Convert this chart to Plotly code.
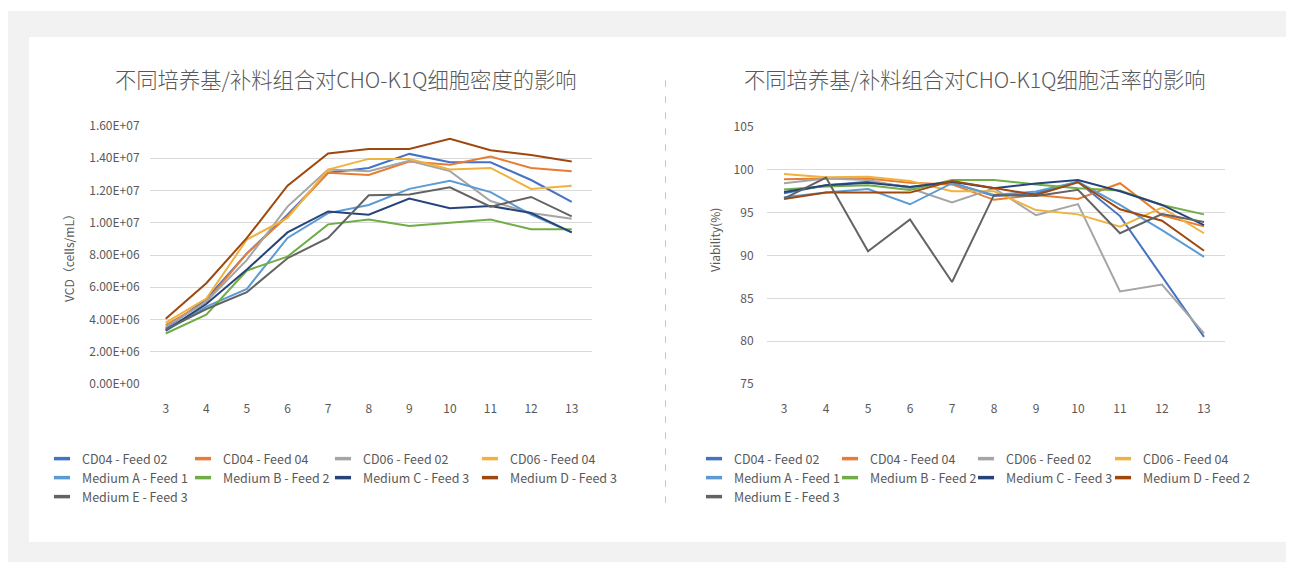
import plotly.graph_objects as go

# ---------------- data ----------------
days = [3, 4, 5, 6, 7, 8, 9, 10, 11, 12, 13]

names_left = ["CD04 - Feed 02", "CD04 - Feed 04", "CD06 - Feed 02", "CD06 - Feed 04",
              "Medium A - Feed 1", "Medium B - Feed 2", "Medium C - Feed 3", "Medium D - Feed 3",
              "Medium E - Feed 3"]
names_right = ["CD04 - Feed 02", "CD04 - Feed 04", "CD06 - Feed 02", "CD06 - Feed 04",
               "Medium A - Feed 1", "Medium B - Feed 2", "Medium C - Feed 3", "Medium D - Feed 2",
               "Medium E - Feed 3"]
colors = ["#4472C4", "#E97C33", "#A5A5A5", "#F0B23E", "#5B9BD5", "#70AD47", "#264478", "#9E480E", "#636363"]

vcd_cd04_f02 = [3.44e6, 5.27e6, 8.10e6, 10.5e6, 13.1e6, 13.4e6, 14.27e6, 13.75e6, 13.75e6, 12.65e6, 11.3e6]
vcd_cd04_f04 = [3.65e6, 5.10e6, 8.10e6, 10.4e6, 13.1e6, 12.96e6, 13.8e6, 13.6e6, 14.1e6, 13.4e6, 13.2e6]
vcd_cd06_f02 = [3.54e6, 5.10e6, 7.70e6, 11.0e6, 13.3e6, 13.2e6, 13.85e6, 13.2e6, 11.35e6, 10.6e6, 10.25e6]
vcd_cd06_f04 = [3.80e6, 5.30e6, 8.96e6, 10.3e6, 13.3e6, 13.96e6, 13.96e6, 13.3e6, 13.4e6, 12.1e6, 12.3e6]
vcd_med_a_f1 = [3.30e6, 4.80e6, 5.90e6, 9.06e6, 10.6e6, 11.1e6, 12.1e6, 12.6e6, 11.9e6, 10.5e6, 9.4e6]
vcd_med_b_f2 = [3.13e6, 4.30e6, 7.04e6, 7.90e6, 9.9e6, 10.2e6, 9.8e6, 10.0e6, 10.2e6, 9.6e6, 9.6e6]
vcd_med_c_f3 = [3.33e6, 4.96e6, 7.10e6, 9.40e6, 10.7e6, 10.5e6, 11.5e6, 10.9e6, 11.04e6, 10.6e6, 9.4e6]
vcd_med_d_f3 = [4.04e6, 6.25e6, 9.06e6, 12.3e6, 14.3e6, 14.58e6, 14.58e6, 15.2e6, 14.5e6, 14.2e6, 13.8e6]
vcd_med_e_f3 = [3.37e6, 4.65e6, 5.70e6, 7.80e6, 9.06e6, 11.7e6, 11.75e6, 12.2e6, 11.0e6, 11.6e6, 10.4e6]

via_cd04_f02 = [97.27, 98.2, 98.6, 98.0, 98.5, 96.95, 97.27, 98.6, 94.6, 87.5, 80.5]
via_cd04_f04 = [98.9, 99.0, 99.0, 98.5, 98.3, 96.5, 97.07, 96.6, 98.44, 94.7, 93.4]
via_cd06_f02 = [98.44, 99.0, 98.8, 97.85, 96.2, 97.85, 94.7, 96.0, 85.8, 86.6, 80.9]
via_cd06_f04 = [99.5, 99.14, 99.2, 98.7, 97.5, 97.5, 95.3, 94.8, 93.36, 95.6, 92.6]
via_med_a_f1 = [96.8, 97.34, 97.77, 95.98, 98.44, 97.07, 97.46, 98.6, 95.9, 92.97, 89.84]
via_med_b_f2 = [97.7, 98.05, 98.2, 97.66, 98.8, 98.8, 98.3, 97.85, 97.6, 95.9, 94.8]
via_med_c_f3 = [97.4, 98.2, 98.5, 98.0, 98.6, 97.85, 98.4, 98.8, 97.5, 95.9, 93.55]
via_med_d_f2 = [96.6, 97.34, 97.34, 97.34, 98.7, 97.85, 97.07, 98.55, 95.4, 94.06, 90.55]
via_med_e_f3 = [96.64, 99.1, 90.5, 94.2, 86.9, 97.07, 96.95, 97.66, 92.6, 94.84, 93.9]

vcd_tickvals = [0, 2e6, 4e6, 6e6, 8e6, 1e7, 1.2e7, 1.4e7, 1.6e7]
vcd_ticklabels = ["0.00E+00", "2.00E+06", "4.00E+06", "6.00E+06", "8.00E+06",
                  "1.00E+07", "1.20E+07", "1.40E+07", "1.60E+07"]
via_tickvals = [75, 80, 85, 90, 95, 100, 105]

title_left = "不同培养基/补料组合对CHO-K1Q细胞密度的影响"
title_right = "不同培养基/补料组合对CHO-K1Q细胞活率的影响"
ytitle_left = "VCD（cells/mL）"
ytitle_right = "Viability(%)"

vcd_series = [vcd_cd04_f02, vcd_cd04_f04, vcd_cd06_f02, vcd_cd06_f04, vcd_med_a_f1,
              vcd_med_b_f2, vcd_med_c_f3, vcd_med_d_f3, vcd_med_e_f3]
via_series = [via_cd04_f02, via_cd04_f04, via_cd06_f02, via_cd06_f04, via_med_a_f1,
              via_med_b_f2, via_med_c_f3, via_med_d_f2, via_med_e_f3]

# ---------------- layout helpers ----------------
W, H = 1294, 562
OFF = 8  # page offset of the figure (body margin)
FONT = "Noto Sans CJK SC, Noto Sans, sans-serif"
TXT = "#595959"
GRID = "#D9D9D9"


def fx(px):
    return (px - OFF) / W


def fy(py):
    return 1 - (py - OFF) / H


fig = go.Figure()

# legend grid: 4 columns x 3 rows for each panel (text start positions in page px)
left_cols = [81, 222, 362, 509]
right_cols = [733, 869, 1005, 1142]
row_y = [459, 478, 497]
leg_font = dict(family=FONT, size=12.5, color=TXT)

legend_layouts = {}
k = 0
for panel, series, names, cols, xa, ya in [
        ("L", vcd_series, names_left, left_cols, "x", "y"),
        ("R", via_series, names_right, right_cols, "x2", "y2")]:
    for i, ys in enumerate(series):
        k += 1
        lname = "legend" if k == 1 else f"legend{k}"
        fig.add_trace(go.Scatter(x=days, y=ys, name=names[i], mode="lines",
                                 line=dict(color=colors[i], width=2),
                                 xaxis=xa, yaxis=ya, showlegend=False))
        # legend key (short thick dash, as in the original)
        fig.add_trace(go.Scatter(x=[None], y=[None], name=names[i], mode="markers",
                                 marker=dict(symbol="line-ew", size=11.5, color=colors[i],
                                             line=dict(color=colors[i], width=3.5)),
                                 xaxis=xa, yaxis=ya, legend=lname, showlegend=True,
                                 hoverinfo="skip"))
        legend_layouts[lname] = dict(
            orientation="h", x=fx(cols[i % 4] - 39), y=fy(row_y[i // 4] - 15),
            xanchor="left", yanchor="top", font=leg_font, bgcolor="rgba(0,0,0,0)",
            itemwidth=30, itemclick=False, itemdoubleclick=False)

axis_common = dict(showline=False, zeroline=False, automargin=False, fixedrange=True,
                   tickfont=dict(family=FONT, size=12, color=TXT))

fig.update_layout(
    width=W, height=H,
    margin=dict(l=0, r=0, t=0, b=0),
    paper_bgcolor="white", plot_bgcolor="rgba(0,0,0,0)",
    font=dict(family=FONT, color=TXT),
    xaxis=dict(domain=[fx(150), fx(592)], range=[2.613, 13.5], tickvals=days,
               showgrid=False, ticks="outside", ticklen=14, tickcolor="rgba(0,0,0,0)",
               anchor="y", **axis_common),
    yaxis=dict(domain=[fy(384), fy(126)], range=[0, 1.6e7], tickvals=vcd_tickvals,
               ticktext=vcd_ticklabels, ticks="outside", ticklen=7, tickcolor="rgba(0,0,0,0)",
               showgrid=True, gridcolor=GRID, gridwidth=1, anchor="x", **axis_common),
    xaxis2=dict(domain=[fx(767), fx(1225)], range=[2.595, 13.5], tickvals=days,
                showgrid=False, ticks="outside", ticklen=14, tickcolor="rgba(0,0,0,0)",
                anchor="y2", **axis_common),
    yaxis2=dict(domain=[fy(384), fy(127)], range=[75, 105], tickvals=via_tickvals,
                ticks="outside", ticklen=10, tickcolor="rgba(0,0,0,0)",
                showgrid=True, gridcolor=GRID, gridwidth=1, anchor="x2", **axis_common),
    showlegend=True,
)
fig.update_layout(legend_layouts)

shapes = [
    dict(type="rect", xref="paper", yref="paper", x0=0, x1=1, y0=0, y1=fy(11),
         fillcolor="#F2F2F2", line=dict(width=0), layer="below"),
    dict(type="rect", xref="paper", yref="paper", x0=fx(29), x1=fx(1287), y0=fy(542), y1=fy(37),
         fillcolor="white", line=dict(width=0), layer="below"),
    dict(type="line", xref="paper", yref="paper", x0=fx(665.5), x1=fx(665.5), y0=fy(503), y1=fy(75),
         line=dict(color="#C8C8C8", width=1, dash="7px,9px"), layer="below"),
]
fig.update_layout(shapes=shapes)

annotations = [
    dict(text=title_left, x=fx(346.5), y=fy(78), xref="paper", yref="paper", showarrow=False,
         xanchor="center", yanchor="middle", font=dict(family=FONT, size=21.3, color=TXT, weight=300)),
    dict(text=title_right, x=fx(975), y=fy(78), xref="paper", yref="paper", showarrow=False,
         xanchor="center", yanchor="middle", font=dict(family=FONT, size=21.3, color=TXT, weight=300)),
    dict(text=ytitle_left, x=fx(69), y=fy(255), xref="paper", yref="paper", showarrow=False,
         textangle=-90, xanchor="center", yanchor="middle", font=dict(family=FONT, size=12, color=TXT)),
    dict(text=ytitle_right, x=fx(714), y=fy(240), xref="paper", yref="paper", showarrow=False,
         textangle=-90, xanchor="center", yanchor="middle", font=dict(family=FONT, size=12, color=TXT)),
]
fig.update_layout(annotations=annotations)

fig.write_html("out.html")
